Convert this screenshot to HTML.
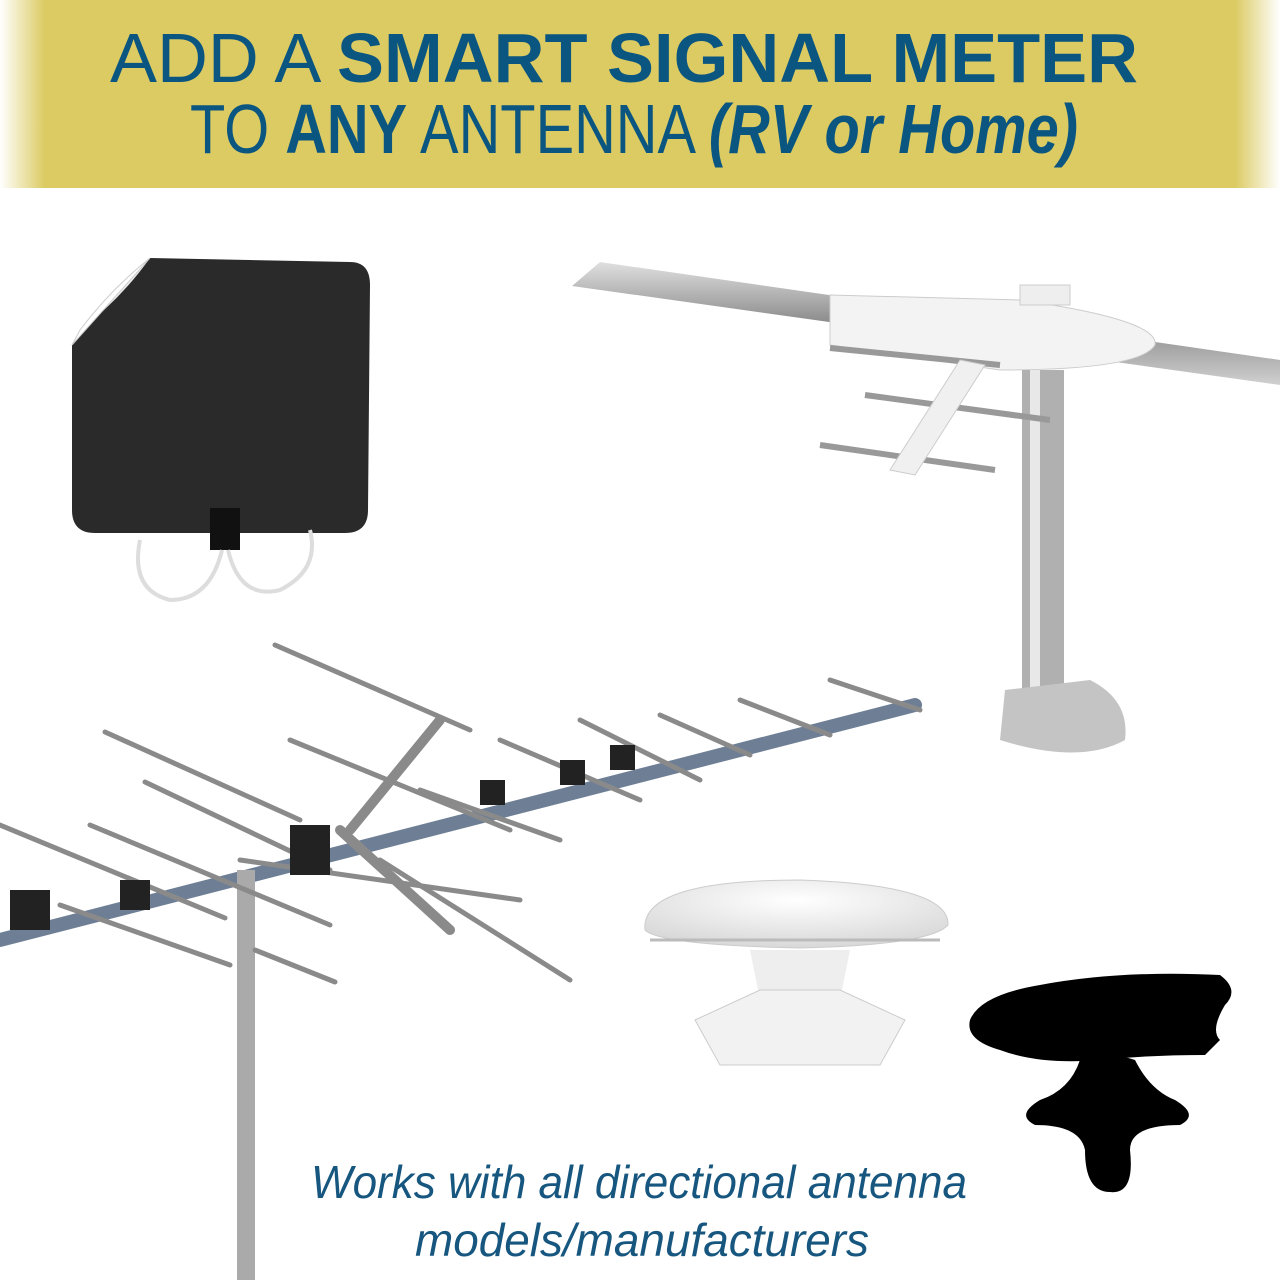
<!DOCTYPE html>
<html><head><meta charset="utf-8"><style>
html,body{margin:0;padding:0;background:#fff;}
svg{display:block;}
</style></head><body>
<svg width="1280" height="1280" viewBox="0 0 1280 1280" xmlns="http://www.w3.org/2000/svg">
<defs>
<linearGradient id="band" x1="0" x2="1" y1="0" y2="0">
<stop offset="0" stop-color="#dccb63" stop-opacity="0"/>
<stop offset="0.035" stop-color="#dccb63"/>
<stop offset="0.965" stop-color="#dccb63"/>
<stop offset="1" stop-color="#dccb63" stop-opacity="0"/>
</linearGradient>
<linearGradient id="metal" x1="0" x2="0" y1="0" y2="1">
<stop offset="0" stop-color="#e0e0e0"/><stop offset="0.5" stop-color="#8a8a8a"/><stop offset="1" stop-color="#d0d0d0"/>
</linearGradient>
<radialGradient id="dome" cx="0.5" cy="0.3" r="0.7">
<stop offset="0" stop-color="#ffffff"/><stop offset="1" stop-color="#d8d8d8"/>
</radialGradient>
</defs>
<rect x="0" y="0" width="1280" height="188" fill="url(#band)"/>
<g fill="#0b5680" font-family="'Liberation Sans Narrow','Liberation Sans',sans-serif">
<text x="110" y="82" font-size="70" textLength="1028" lengthAdjust="spacingAndGlyphs"><tspan font-weight="normal">ADD A </tspan><tspan font-weight="bold">SMART SIGNAL METER</tspan></text>
<text x="190" y="153" font-size="70" textLength="888" lengthAdjust="spacingAndGlyphs"><tspan>TO </tspan><tspan font-weight="bold">ANY</tspan><tspan> ANTENNA </tspan><tspan font-weight="bold" font-style="italic">(RV or Home)</tspan></text>
</g>

<!-- flat antenna -->
<path d="M150 258 L350 262 Q370 262 370 285 L368 510 Q368 533 345 533 L95 533 Q72 533 72 510 L72 345 Z" fill="#2a2a2a"/>
<path d="M150 258 Q120 300 80 330 Q100 300 150 258 Z" fill="#ececec"/>
<path d="M150 258 L72 345 L80 330 Q110 290 150 258Z" fill="#fff" stroke="#ccc"/>
<rect x="210" y="508" width="30" height="42" fill="#111"/>
<path d="M222 550 Q210 600 170 600 Q130 590 140 540" fill="none" stroke="#ddd" stroke-width="4"/>
<path d="M228 550 Q240 600 280 590 Q320 570 310 530" fill="none" stroke="#ddd" stroke-width="4"/>

<!-- RV antenna -->
<polygon points="572,286 600,262 1280,360 1280,385" fill="url(#metal)"/>
<path d="M830 295 L1020 300 Q1160 320 1155 345 Q1140 370 1000 370 L830 345 Z" fill="#f3f3f3" stroke="#ccc"/>
<rect x="1020" y="285" width="50" height="20" fill="#eee" stroke="#ccc"/>
<rect x="1022" y="370" width="42" height="320" fill="#b0b0b0"/>
<rect x="1030" y="370" width="10" height="320" fill="#e8e8e8"/>
<path d="M1005 690 L1090 680 Q1130 700 1125 740 Q1080 765 1000 740 Z" fill="#c4c4c4"/>
<line x1="830" y1="348" x2="1000" y2="365" stroke="#999" stroke-width="6"/>
<line x1="865" y1="395" x2="1050" y2="420" stroke="#999" stroke-width="6"/>
<line x1="820" y1="445" x2="995" y2="470" stroke="#999" stroke-width="6"/>
<polygon points="960,360 985,365 915,475 890,470" fill="#f0f0f0" stroke="#ccc"/>

<!-- Yagi -->
<g stroke="#8a8a8a" stroke-width="5" stroke-linecap="round">
<line x1="0" y1="940" x2="915" y2="705" stroke="#6e7f95" stroke-width="14"/>
<rect x="237" y="870" width="18" height="410" fill="#aaa" stroke="none"/>
<line x1="275" y1="645" x2="470" y2="730"/>
<line x1="105" y1="732" x2="300" y2="820"/>
<line x1="290" y1="740" x2="510" y2="830"/>
<line x1="145" y1="782" x2="330" y2="870"/>
<line x1="0" y1="825" x2="225" y2="918"/>
<line x1="90" y1="825" x2="330" y2="925"/>
<line x1="380" y1="860" x2="570" y2="980"/>
<line x1="240" y1="860" x2="520" y2="900"/>
<line x1="255" y1="950" x2="335" y2="982"/>
<line x1="60" y1="905" x2="230" y2="965"/>
<line x1="420" y1="790" x2="560" y2="840"/>
<line x1="500" y1="740" x2="640" y2="800"/>
<line x1="580" y1="720" x2="700" y2="780"/>
<line x1="660" y1="715" x2="750" y2="755"/>
<line x1="740" y1="700" x2="830" y2="735"/>
<line x1="830" y1="680" x2="920" y2="710"/>
<line x1="340" y1="830" x2="450" y2="930" stroke-width="10"/>
<line x1="350" y1="830" x2="440" y2="720" stroke-width="10"/>
</g>
<g fill="#222">
<rect x="290" y="825" width="40" height="50"/><rect x="120" y="880" width="30" height="30"/><rect x="10" y="890" width="40" height="40"/>
<rect x="480" y="780" width="25" height="25"/><rect x="560" y="760" width="25" height="25"/><rect x="610" y="745" width="25" height="25"/>
</g>

<!-- dome -->
<path d="M645 930 Q640 880 800 880 Q950 885 948 925 Q930 945 800 948 Q660 945 645 930 Z" fill="url(#dome)" stroke="#ccc"/>
<line x1="650" y1="940" x2="940" y2="940" stroke="#bbb" stroke-width="3"/>
<path d="M750 950 L850 950 L840 1000 L760 1000 Z" fill="#eee"/>
<path d="M695 1020 L760 990 L840 990 L905 1020 L880 1065 L720 1065 Z" fill="#f2f2f2" stroke="#ccc"/>

<!-- silhouette -->
<path d="M970 1020 Q980 995 1040 985 Q1120 970 1220 975 Q1240 990 1225 1005 Q1210 1030 1220 1040 L1205 1055 Q1150 1055 1100 1060 Q1040 1065 1000 1050 Q965 1040 970 1020 Z" fill="#000"/>
<path d="M1080 1060 Q1105 1050 1135 1060 Q1150 1090 1175 1100 Q1200 1115 1180 1125 Q1130 1125 1130 1150 Q1135 1195 1110 1192 Q1085 1192 1085 1150 Q1080 1125 1035 1125 Q1015 1115 1040 1100 Q1070 1090 1080 1060 Z" fill="#000"/>

<g fill="#17577f" font-family="'Liberation Sans',sans-serif" font-style="italic" font-size="46" text-anchor="middle">
<text x="639" y="1198" textLength="656" lengthAdjust="spacingAndGlyphs">Works with all directional antenna</text>
<text x="642" y="1256" textLength="454" lengthAdjust="spacingAndGlyphs">models/manufacturers</text>
</g>
</svg>
</body></html>
